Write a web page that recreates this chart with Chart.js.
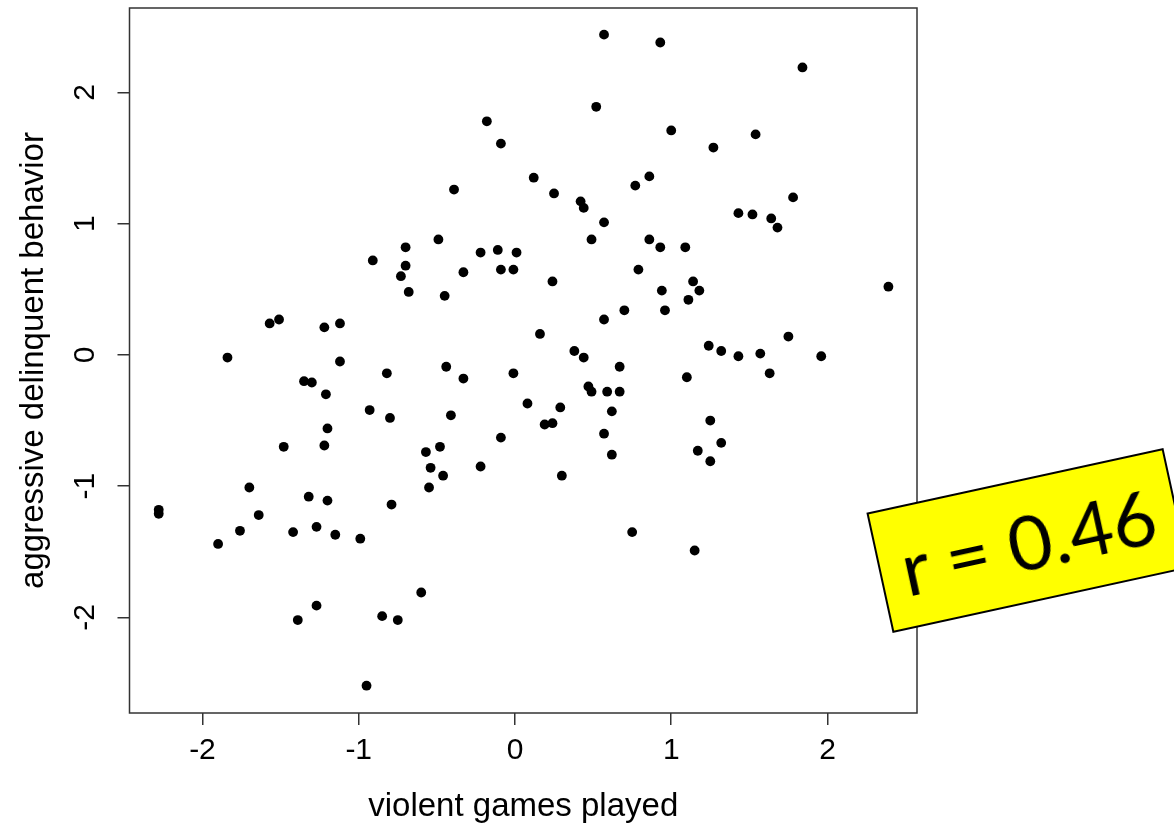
<!DOCTYPE html>
<html>
<head>
<meta charset="utf-8">
<script src="https://cdn.jsdelivr.net/npm/chart.js@4"></script>
<style>
  html, body { margin: 0; padding: 0; background: #fff; overflow: hidden; }
  #wrap { position: relative; width: 1174px; height: 823px; }
  #rBox {
    position: absolute;
    left: 876px;
    top: 479px;
    width: 304px;
    height: 123px;
    box-sizing: border-box;
    background: #ffff00;
    border: 2.5px solid #000;
    transform: rotate(-12.3deg);
    transform-origin: center center;
    display: flex;
    align-items: center;
    justify-content: center;
    font-family: Lato, "Open Sans", sans-serif;
    font-size: 76px;
    color: #000;
    white-space: nowrap;
  }
</style>
</head>
<body>
<div id="wrap">
  <canvas id="chart"></canvas>
  <div id="rBox"></div>
</div>
<script>
// violent games played (x) vs aggressive delinquent behavior (y)
const xValues = [
  -0.91, -0.73, -1.57, -1.51, -1.22, -1.12, -1.84, -1.12, 0.57, 0.93,
  0.52, -0.18, -0.09, 0.12, -0.39, 0.25, 0.42, 0.44, 0.77, 0.86,
  0.57, -0.49, -0.70, 0.49, 0.86, 0.93, -0.22, -0.11, 0.01, -0.70,
  -0.33, -0.09, -0.01, 0.79, -0.68, -0.45, 0.24, 0.94, 0.96, 0.70,
  0.57, 0.16, 0.38, 0.44, 1.84, 1.00, 1.54, 1.27, 1.78, 1.43,
  1.52, 1.64, 1.68, 1.09, 1.14, 1.18, 1.11, 2.39, 1.75, 1.24,
  1.32, 1.43, 1.57, 1.96, -0.82, -1.35, -1.30, -1.21, -0.93, -0.80,
  -1.20, -1.48, -1.22, -1.70, -1.32, -1.20, -0.79, -2.28, -2.28, -1.64,
  -1.76, -1.42, -1.27, -1.15, -0.99, -1.90, -1.27, -1.39, -0.85, -0.75,
  -0.95, -0.44, -0.33, -0.01, 0.67, 0.47, 0.49, 0.59, 0.67, 0.08,
  0.29, 0.19, 0.24, 0.62, -0.41, 0.57, -0.09, 0.62, -0.48, -0.57,
  -0.54, -0.46, -0.22, 0.30, -0.55, 0.75, -0.60, 1.10, 1.63, 1.25,
  1.32, 1.17, 1.25, 1.15
];
const yValues = [
  0.72, 0.60, 0.24, 0.27, 0.21, 0.24, -0.02, -0.05, 2.44, 2.38,
  1.89, 1.78, 1.61, 1.35, 1.26, 1.23, 1.17, 1.12, 1.29, 1.36,
  1.01, 0.88, 0.82, 0.88, 0.88, 0.82, 0.78, 0.80, 0.78, 0.68,
  0.63, 0.65, 0.65, 0.65, 0.48, 0.45, 0.56, 0.49, 0.34, 0.34,
  0.27, 0.16, 0.03, -0.02, 2.19, 1.71, 1.68, 1.58, 1.20, 1.08,
  1.07, 1.04, 0.97, 0.82, 0.56, 0.49, 0.42, 0.52, 0.14, 0.07,
  0.03, -0.01, 0.01, -0.01, -0.14, -0.20, -0.21, -0.30, -0.42, -0.48,
  -0.56, -0.70, -0.69, -1.01, -1.08, -1.11, -1.14, -1.18, -1.21, -1.22,
  -1.34, -1.35, -1.31, -1.37, -1.40, -1.44, -1.91, -2.02, -1.99, -2.02,
  -2.52, -0.09, -0.18, -0.14, -0.09, -0.24, -0.28, -0.28, -0.28, -0.37,
  -0.40, -0.53, -0.52, -0.43, -0.46, -0.60, -0.63, -0.76, -0.70, -0.74,
  -0.86, -0.92, -0.85, -0.92, -1.01, -1.35, -1.81, -0.17, -0.14, -0.50,
  -0.67, -0.73, -0.81, -1.49
];
const xTicks = [-2, -1, 0, 1, 2];
const yTicks = [-2, -1, 0, 1, 2];
const xTitle = "violent games played";
const yTitle = "aggressive delinquent behavior";
const rValue = "0.46";

document.getElementById("rBox").textContent = "r = " + rValue;

const points = xValues.map(function (x, i) {
  return { x: x, y: yValues[i] };
});

Chart.defaults.font.family = '"Liberation Sans", Arial, sans-serif';
Chart.defaults.color = "#000";

// R style box round the plot region
const boxPlugin = {
  id: "plotBox",
  afterDraw: function (chart) {
    const a = chart.chartArea;
    const ctx = chart.ctx;
    ctx.save();
    ctx.strokeStyle = "#333";
    ctx.lineWidth = 1.5;
    ctx.strokeRect(a.left, a.top, a.right - a.left, a.bottom - a.top);
    ctx.restore();
  }
};

function fixedTicks(values) {
  return function (scale) {
    scale.ticks = values.map(function (v) { return { value: v }; });
  };
}

const tickGrid = {
  display: true,
  drawOnChartArea: false,
  drawTicks: true,
  tickLength: 12,
  color: "#333",
  lineWidth: 1.5
};

new Chart(document.getElementById("chart"), {
  type: "scatter",
  data: {
    datasets: [{
      data: points,
      pointRadius: 4.9,
      pointBackgroundColor: "#000",
      pointBorderWidth: 0,
      pointHoverRadius: 4.9
    }]
  },
  options: {
    responsive: true,
    maintainAspectRatio: false,
    animation: false,
    layout: { padding: { top: 8, right: 257, left: 0, bottom: 0 } },
    plugins: {
      legend: { display: false },
      tooltip: { enabled: false }
    },
    scales: {
      x: {
        type: "linear",
        min: -2.467,
        max: 2.573,
        afterBuildTicks: fixedTicks(xTicks),
        afterFit: function (scale) {
          scale.height = 110;
          scale.paddingLeft = 0;
          scale.paddingRight = 0;
        },
        grid: tickGrid,
        border: { display: false },
        ticks: { font: { size: 30 }, padding: 8, maxRotation: 0 },
        title: {
          display: true,
          text: xTitle,
          font: { size: 33, lineHeight: 1.0 },
          padding: { top: 0, bottom: 0 }
        }
      },
      y: {
        type: "linear",
        min: -2.728,
        max: 2.643,
        afterBuildTicks: fixedTicks(yTicks),
        afterFit: function (scale) {
          scale.width = 129.5;
          scale.paddingTop = 0;
          scale.paddingBottom = 0;
        },
        grid: tickGrid,
        border: { display: false },
        ticks: { font: { size: 30 }, padding: 18, minRotation: 90, maxRotation: 90, crossAlign: "center" },
        title: {
          display: true,
          text: yTitle,
          font: { size: 33 },
          padding: { top: 14, bottom: 0 }
        }
      }
    }
  },
  plugins: [boxPlugin]
});
</script>
</body>
</html>
